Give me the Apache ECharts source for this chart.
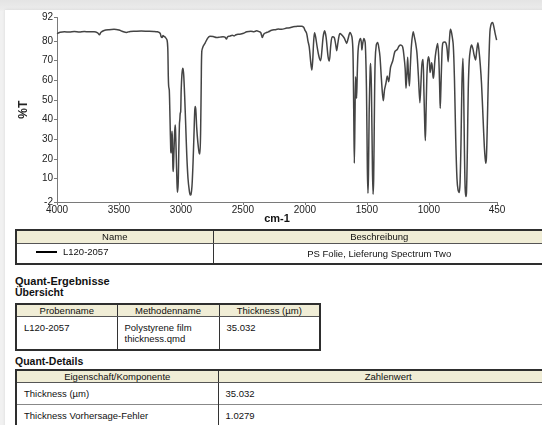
<!DOCTYPE html>
<html>
<head>
<meta charset="utf-8">
<script src="https://cdn.jsdelivr.net/npm/echarts@6/dist/echarts.min.js"></script>
<style>
  html, body { margin: 0; padding: 0; width: 542px; height: 425px; overflow: hidden; }
  body { background: linear-gradient(#e4e4e4, #ececec 10px, #f1f1f1 11px); font-family: "Liberation Sans", Arial, sans-serif; color: #111; position: relative; }
  #page { position: absolute; left: 5px; top: 10px; width: 600px; height: 430px; background: #fff; box-shadow: 0 0 3px rgba(0,0,0,0.10); }
  #chart { position: absolute; left: 0; top: 0; width: 542px; height: 240px; }
  table { position: absolute; border-collapse: collapse; font-size: 9.5px; color: #111; border: 2px solid #2e2e2e; table-layout: fixed; }
  th { background: #f0edd6; font-weight: normal; padding: 0; border-bottom: 1px solid #555; border-left: 1px solid #333; line-height: 11px; }
  td { padding: 0 0 0 7px; border-left: 1px solid #333; border-top: 1px solid #888; }
  th:first-child, td:first-child { border-left: none; }
  .head { position: absolute; left: 15px; font-weight: bold; font-size: 10.5px; }
  .leg { display: inline-block; width: 21px; height: 2px; background: #000; vertical-align: middle; margin: 0 6px 0 19px; }
</style>
</head>
<body>
<div id="page"></div>
<div id="chart"></div>

<table id="t1" style="left:15px; top:229px; width:532px;">
  <colgroup><col style="width:197px"><col></colgroup>
  <tr style="height:13px"><th>Name</th><th>Beschreibung</th></tr>
  <tr style="height:21px">
    <td style="vertical-align:top; padding:2px 0 0 0;"><span class="leg"></span>L120-2057</td>
    <td style="text-align:center; padding:0;">PS Folie, Lieferung Spectrum Two</td>
  </tr>
</table>

<div class="head" style="top:275px; font-size:11px;">Quant-Ergebnisse</div>
<div class="head" style="top:286px;">Übersicht</div>

<table id="t2" style="left:15px; top:303px; width:306px;">
  <colgroup><col style="width:101px"><col style="width:102px"><col></colgroup>
  <tr style="height:12px"><th>Probenname</th><th>Methodenname</th><th>Thickness (µm)</th></tr>
  <tr style="height:33px">
    <td style="vertical-align:top; padding-top:5px;">L120-2057</td>
    <td style="vertical-align:top; padding-top:5px; line-height:11px;">Polystyrene film<br>thickness.qmd</td>
    <td style="vertical-align:top; padding-top:5px;">35.032</td>
  </tr>
</table>

<div class="head" style="top:355px;">Quant-Details</div>

<table id="t3" style="left:15px; top:369px; width:545px;">
  <colgroup><col style="width:202px"><col></colgroup>
  <tr style="height:12px"><th>Eigenschaft/Komponente</th><th>Zahlenwert</th></tr>
  <tr style="height:22px"><td>Thickness (µm)</td><td>35.032</td></tr>
  <tr style="height:22px"><td>Thickness Vorhersage-Fehler</td><td>1.0279</td></tr>
</table>

<script>
// IR transmission spectrum of the polystyrene film (wavenumber in cm-1, %T)
const wavenumbers = [
  4000, 3975, 3940, 3900, 3860, 3820, 3780, 3740, 3700, 3672, 3658, 3645, 3620, 3580, 3540, 3500,
  3470, 3440, 3410, 3370, 3320, 3270, 3220, 3190, 3168, 3160, 3152, 3145, 3135, 3127,
  3112, 3106, 3102, 3099, 3094, 3088, 3082, 3079, 3076, 3072, 3069, 3065, 3062, 3059, 3052, 3047,
  3044, 3038, 3032, 3028, 3025, 3022, 3017, 3012, 3009, 3006, 3002, 2998, 2992, 2986, 2982, 2977,
  2970, 2962, 2953, 2943, 2933, 2925, 2919, 2911, 2903, 2895, 2889, 2885, 2880, 2873, 2863, 2853,
  2847, 2841, 2836, 2832, 2823, 2805, 2784, 2766, 2740, 2712, 2685, 2660, 2645, 2633, 2623, 2605,
  2586, 2570, 2556, 2540, 2526, 2496, 2469, 2436, 2410, 2389, 2370, 2357, 2343, 2332, 2315, 2295,
  2268, 2240, 2215, 2188, 2147, 2120, 2094, 2070, 2049, 2026, 2010, 2000, 1986, 1975, 1965, 1951,
  1944, 1937, 1929, 1922, 1913, 1901, 1886, 1873, 1863, 1853, 1841, 1829, 1813, 1803, 1791, 1779,
  1763, 1751, 1743, 1734, 1723, 1716, 1696, 1682, 1672, 1663, 1652, 1636, 1620, 1612, 1606, 1601,
  1596, 1591, 1586, 1583, 1578, 1571, 1562, 1551, 1544, 1540, 1535, 1524, 1513, 1503, 1496, 1491,
  1487, 1481, 1473, 1469, 1463, 1455, 1450, 1445, 1439, 1433, 1424, 1413, 1402, 1394, 1384, 1374,
  1367, 1358, 1346, 1335, 1324, 1314, 1308, 1291, 1274, 1255, 1240, 1227, 1211, 1200, 1191, 1184,
  1177, 1171, 1165, 1157, 1150, 1140, 1126, 1116, 1107, 1096, 1084, 1072, 1064, 1056, 1047, 1040,
  1032, 1028, 1022, 1014, 1004, 996, 990, 984, 978, 972, 965, 959, 952, 942, 929, 919,
  912, 908, 903, 895, 888, 875, 862, 853, 844, 836, 830, 825, 816, 803, 793, 783,
  773, 764, 755, 748, 740, 733, 725, 719, 713, 707, 701, 696, 689, 682, 674, 664,
  655, 644, 635, 623, 614, 604, 595, 585, 575, 562, 552, 545, 540, 535, 528, 521,
  514, 507, 500, 492, 485, 478, 470, 462, 453
];
const transmittance = [
  83.8, 84.5, 84.7, 84.6, 84.9, 84.6, 84.9, 84.7, 84.8, 84.2, 83.2, 84.5, 85.4, 85.8, 86.0, 85.6,
  84.9, 84.4, 84.9, 85.0, 85.1, 85.0, 84.9, 84.7, 84.0, 82.2, 81.8, 82.8, 82.3, 82.0,
  80.5, 76.0, 62.0, 57.0, 55.0, 40.0, 24.0, 23.0, 30.0, 34.0, 30.0, 16.0, 13.5, 18.0, 32.0, 37.2,
  35.0, 22.0, 8.0, 3.0, 3.0, 8.0, 25.0, 38.0, 40.0, 43.0, 44.0, 55.0, 63.0, 66.2, 65.5, 62.0,
  52.0, 38.0, 22.0, 10.0, 4.0, 1.6, 1.8, 6.0, 17.0, 32.0, 44.0, 46.6, 45.0, 36.0, 28.0, 23.0,
  22.5, 35.0, 60.0, 74.6, 77.0, 79.0, 81.5, 82.5, 82.3, 81.8, 82.0, 82.2, 82.0, 81.0, 82.2, 82.5,
  83.0, 82.6, 83.2, 83.5, 83.5, 84.0, 84.7, 85.0, 84.8, 85.2, 84.8, 84.4, 81.8, 83.5, 84.2, 84.7,
  85.5, 85.8, 86.1, 86.0, 86.6, 86.8, 87.3, 87.4, 87.6, 87.6, 87.0, 85.6, 83.9, 80.0, 77.0, 68.0,
  65.2, 70.0, 80.0, 84.2, 82.0, 77.0, 72.0, 70.0, 75.0, 82.0, 85.2, 82.0, 72.0, 69.8, 78.0, 82.2,
  81.8, 78.0, 75.1, 79.0, 83.0, 83.9, 82.7, 81.5, 80.0, 78.8, 81.0, 84.4, 82.0, 74.0, 45.0, 17.8,
  40.0, 61.8, 55.0, 50.8, 62.0, 75.0, 79.6, 81.3, 79.0, 75.4, 78.0, 81.3, 79.0, 55.0, 15.0, 2.5,
  12.0, 45.0, 66.0, 68.6, 55.0, 15.0, 2.0, 10.0, 45.0, 70.0, 78.0, 79.3, 76.0, 72.0, 62.0, 53.0,
  49.6, 55.0, 58.5, 62.2, 59.3, 64.0, 66.9, 70.0, 74.6, 75.7, 77.5, 78.0, 77.0, 72.0, 66.0, 55.9,
  63.0, 71.7, 64.0, 57.1, 66.0, 78.0, 84.7, 82.0, 79.1, 74.0, 62.0, 48.6, 58.0, 68.0, 70.6, 55.0,
  35.0, 29.3, 45.0, 65.0, 72.0, 70.0, 64.0, 66.0, 69.0, 67.0, 61.0, 63.0, 69.5, 75.0, 78.8, 70.0,
  55.0, 45.7, 55.0, 72.0, 78.8, 79.5, 79.0, 76.0, 69.5, 78.0, 84.0, 86.0, 84.0, 78.0, 60.0, 30.0,
  10.0, 4.0, 2.8, 8.0, 30.0, 58.0, 71.2, 55.0, 25.0, 5.0, 0.8, 3.0, 25.0, 55.0, 70.0, 76.0,
  78.0, 76.0, 73.0, 70.3, 75.0, 79.1, 75.0, 68.0, 58.5, 40.0, 26.0, 20.0, 17.8, 21.0, 38.0, 58.0,
  73.0, 84.7, 88.0, 89.3, 89.5, 88.0, 85.5, 83.0, 80.5
];

// Axis tick labels
const xTickValues = [4000, 3500, 3000, 2500, 2000, 1500, 1000, 450];
const yTickValues = [-2, 10, 20, 30, 40, 50, 60, 70, 80, 92];

const spectrum = wavenumbers.map((w, i) => [w, transmittance[i]]);

const chart = echarts.init(document.getElementById('chart'), null, { renderer: 'canvas' });
const labelFont = { fontFamily: '"Liberation Sans", Arial, sans-serif', fontSize: 10, color: '#222' };

chart.setOption({
  animation: false,
  backgroundColor: 'transparent',
  grid: { left: 57, top: 17.5, width: 440, height: 184.5, containLabel: false, outerBoundsMode: 'none' },
  xAxis: {
    type: 'value',
    min: 450,
    max: 4000,
    inverse: true,
    name: 'cm-1',
    nameLocation: 'middle',
    nameGap: 11,
    nameMoveOverlap: false,
    nameTextStyle: { fontFamily: '"Liberation Sans", Arial, sans-serif', fontSize: 11, fontWeight: 'bold', color: '#111' },
    axisLine: { onZero: false, lineStyle: { color: '#7a7a7a', width: 1 } },
    axisTick: { show: true, length: 3, customValues: xTickValues, lineStyle: { color: '#7a7a7a' } },
    axisLabel: { customValues: xTickValues, margin: 3, formatter: v => String(v), ...labelFont },
    splitLine: { show: false }
  },
  yAxis: {
    type: 'value',
    min: -2,
    max: 92,
    name: '%T',
    nameLocation: 'middle',
    nameRotate: 90,
    nameGap: 27,
    nameMoveOverlap: false,
    nameTextStyle: { fontFamily: '"Liberation Sans", Arial, sans-serif', fontSize: 12, fontWeight: 'bold', color: '#222' },
    axisLine: { show: true, lineStyle: { color: '#7a7a7a', width: 1 } },
    axisTick: { show: true, length: 3, customValues: yTickValues, lineStyle: { color: '#7a7a7a' } },
    axisLabel: { customValues: yTickValues, margin: 4, formatter: v => String(v), ...labelFont },
    splitLine: { show: false }
  },
  series: [{
    type: 'line',
    data: spectrum,
    showSymbol: false,
    smooth: 0.3,
    clip: true,
    lineStyle: { color: '#444444', width: 1.5 }
  }]
});
</script>
</body>
</html>
